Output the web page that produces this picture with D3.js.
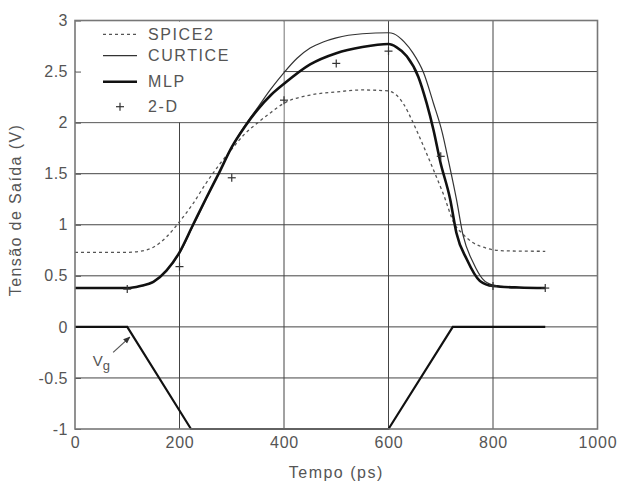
<!DOCTYPE html>
<html><head><meta charset="utf-8">
<script src="https://cdn.jsdelivr.net/npm/d3@7"></script>
<style>
body{margin:0;background:#fff;}
text{font-family:"Liberation Sans",Arial,sans-serif;fill:#555;}
</style></head>
<body><svg id="c" width="619" height="485"></svg>
<script>
// ---- data ----
const xTicks = [0,200,400,600,800,1000];
const xTickLabels = ["0","200","400","600","800","1000"];
const yTicks = [-1,-0.5,0,0.5,1,1.5,2,2.5,3];
const yTickLabels = ["-1","-0.5","0","0.5","1","1.5","2","2.5","3"];
const spice2 = [[0,0.73],[100,0.73],[125,0.74],[150,0.78],[175,0.88],[200,1.03],[225,1.2],[250,1.40],[275,1.58],[300,1.74],[325,1.89],[350,2.0],[375,2.10],[400,2.19],[450,2.27],[500,2.30],[550,2.32],[600,2.31],[615,2.27],[628,2.19],[647,2.0],[667,1.77],[685,1.55],[705,1.30],[727,1.0],[740,0.92],[760,0.83],[788,0.77],[820,0.745],[900,0.74]];
const curtice = [[0,0.38],[100,0.38],[125,0.40],[150,0.44],[175,0.55],[200,0.72],[225,0.98],[250,1.24],[275,1.50],[300,1.76],[325,1.97],[350,2.15],[375,2.33],[400,2.49],[425,2.63],[450,2.73],[475,2.79],[500,2.83],[550,2.87],[600,2.88],[610,2.87],[630,2.79],[647,2.68],[667,2.49],[686,2.19],[703,1.90],[715,1.62],[730,1.25],[743,0.89],[762,0.63],[780,0.47],[800,0.41],[850,0.385],[900,0.38]];
const mlp = [[0,0.38],[100,0.38],[125,0.40],[150,0.44],[175,0.55],[200,0.73],[225,0.99],[250,1.25],[275,1.50],[300,1.76],[325,1.96],[350,2.13],[375,2.27],[400,2.38],[450,2.57],[500,2.68],[550,2.74],[600,2.77],[615,2.74],[635,2.65],[657,2.45],[673,2.19],[686,1.93],[699,1.62],[718,1.25],[730,0.92],[750,0.66],[775,0.45],[800,0.40],[850,0.385],[900,0.38]];
const twoD = [[100,0.37],[200,0.59],[300,1.46],[400,2.22],[500,2.58],[600,2.70],[700,1.67],[800,0.40],[900,0.38]];
const vg = [[0,0],[100,0],[222,-1],[600,-1],[723,0],[900,0]];
const legendNames = ["SPICE2","CURTICE","MLP","2-D"];

// ---- layout ----
const svg = d3.select("#c");
const x = d3.scaleLinear().domain([0,1000]).range([75,597.5]);
const y = d3.scaleLinear().domain([-1,3]).range([429,20.5]);

// grid
const grid = svg.append("g").attr("stroke","#444").attr("stroke-width",1);
grid.selectAll("line.v").data(xTicks.slice(1,-1)).enter().append("line")
  .attr("x1",d=>x(d)).attr("x2",d=>x(d)).attr("y1",y(-1)).attr("y2",y(3));
grid.selectAll("line.h").data(yTicks.slice(1,-1)).enter().append("line")
  .attr("x1",x(0)).attr("x2",x(1000)).attr("y1",d=>y(d)).attr("y2",d=>y(d));

// legend background (covers grid)
svg.append("rect").attr("x",x(0)+1).attr("y",y(3)+1)
  .attr("width",x(400)-x(0)-1.5).attr("height",y(2)-y(3)-1.5).attr("fill","#fff");

// axes
const yAxis = d3.axisLeft(y).tickValues(yTicks).tickFormat((d,i)=>yTickLabels[i]).tickSize(-6).tickPadding(7);
const ya = svg.append("g").attr("transform",`translate(${x(0)},0)`).call(yAxis);
ya.select(".domain").remove();
ya.selectAll(".tick line").attr("stroke","#555");
ya.selectAll("text").attr("font-size",16).style("letter-spacing","0.5px").attr("fill","#555");

const xAxis = d3.axisBottom(x).tickValues(xTicks).tickFormat((d,i)=>xTickLabels[i]).tickSize(0).tickPadding(8);
const xa = svg.append("g").attr("transform",`translate(0,${y(-1)})`).call(xAxis);
xa.select(".domain").remove();
xa.selectAll("text").attr("font-size",16).style("letter-spacing","0.8px").attr("fill","#555");

// curves
const line = d3.line().x(d=>x(d[0])).y(d=>y(d[1])).curve(d3.curveMonotoneX);
const lineL = d3.line().x(d=>x(d[0])).y(d=>y(d[1]));
svg.append("path").attr("d",line(spice2)).attr("fill","none").attr("stroke","#555").attr("stroke-width",1.3).attr("stroke-dasharray","3,3");
svg.append("path").attr("d",line(curtice)).attr("fill","none").attr("stroke","#333").attr("stroke-width",1.2);
svg.append("path").attr("d",line(mlp)).attr("fill","none").attr("stroke","#111").attr("stroke-width",2.6);
svg.append("path").attr("d",lineL(vg)).attr("fill","none").attr("stroke","#111").attr("stroke-width",2.2);

// 2-D markers
const plus = (g,cx,cy,s)=>{
  g.append("line").attr("x1",cx-s).attr("x2",cx+s).attr("y1",cy).attr("y2",cy);
  g.append("line").attr("x1",cx).attr("x2",cx).attr("y1",cy-s).attr("y2",cy+s);
};
const mk = svg.append("g").attr("stroke","#333").attr("stroke-width",1.2);
twoD.forEach(d=>plus(mk,x(d[0]),y(d[1]),4));

// border
svg.append("rect").attr("x",x(0)).attr("y",y(3)).attr("width",x(1000)-x(0)).attr("height",y(-1)-y(3))
  .attr("fill","none").attr("stroke","#777").attr("stroke-width",1.6);

// legend
const lg = svg.append("g");
const rows = [34.3,55.7,81.7,106.7];
const lx1 = 103, lx2 = 137, tx = 148;
lg.append("line").attr("x1",lx1).attr("x2",lx2).attr("y1",rows[0]).attr("y2",rows[0]).attr("stroke","#555").attr("stroke-width",1.3).attr("stroke-dasharray","3,3");
lg.append("line").attr("x1",lx1).attr("x2",lx2).attr("y1",rows[1]).attr("y2",rows[1]).attr("stroke","#333").attr("stroke-width",1.2);
lg.append("line").attr("x1",lx1).attr("x2",lx2).attr("y1",rows[2]).attr("y2",rows[2]).attr("stroke","#111").attr("stroke-width",2.6);
const lm = lg.append("g").attr("stroke","#333").attr("stroke-width",1.2);
plus(lm,(lx1+lx2)/2,rows[3],4);
legendNames.forEach((n,i)=>{
  lg.append("text").attr("x",tx).attr("y",rows[i]).attr("dy","0.36em").attr("font-size",16)
    .style("letter-spacing","1.6px").text(n);
});

// Vg annotation
const tail=[73,-0.25], tip=[105,-0.10];
svg.append("defs").append("marker").attr("id","ah").attr("viewBox","0 0 10 10").attr("refX",9).attr("refY",5)
  .attr("markerWidth",6).attr("markerHeight",6).attr("orient","auto")
  .append("path").attr("d","M0,1 L10,5 L0,9 Z").attr("fill","#333");
svg.append("line").attr("x1",x(tail[0])).attr("y1",y(tail[1])).attr("x2",x(tip[0])).attr("y2",y(tip[1]))
  .attr("stroke","#555").attr("stroke-width",1.2).attr("marker-end","url(#ah)");
const vt = svg.append("text").attr("x",x(34)).attr("y",y(-0.38)).attr("font-size",15);
vt.append("tspan").text("V");
vt.append("tspan").attr("font-size",13).attr("dy",4).text("g");

// axis titles
svg.append("text").attr("x",(x(0)+x(1000))/2).attr("y",478).attr("text-anchor","middle")
  .attr("font-size",16).style("letter-spacing","1.5px").text("Tempo (ps)");
svg.append("text").attr("transform","translate(15,210) rotate(-90)").attr("text-anchor","middle")
  .attr("dy","0.36em").attr("font-size",16).style("letter-spacing","1.4px").text("Tensão de Saída (V)");
</script></body></html>
